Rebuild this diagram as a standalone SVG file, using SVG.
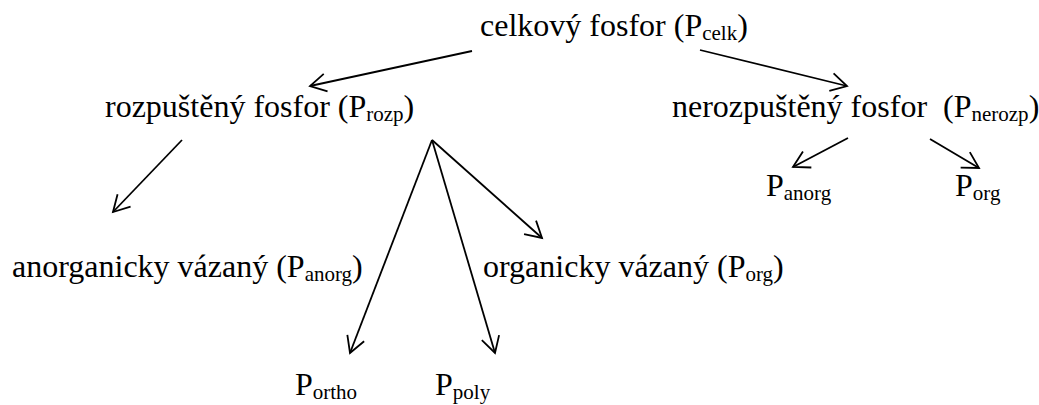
<svg xmlns="http://www.w3.org/2000/svg" width="1039" height="405" viewBox="0 0 1039 405">
<style>
text{font-family:"Liberation Serif","Times New Roman",serif;font-size:32px;fill:#000}
.s{font-size:21px}
.c line{stroke:#000;stroke-width:1.8;fill:none}
.a{marker-end:url(#ah)}
</style>
<defs>
<marker id="ah" markerUnits="userSpaceOnUse" markerWidth="40" markerHeight="40" viewBox="-20 -20 40 40" refX="0" refY="0" orient="auto" overflow="visible">
<path d="M-16,-9 L0,0 L-16,9" fill="none" stroke="#000" stroke-width="1.8"/>
</marker>
</defs>
<rect width="1039" height="405" fill="#fff"/>
<g id="celk"><text x="480" y="36">celkový fosfor (P<tspan class="s" dy="4">celk</tspan><tspan dy="-4">)</tspan></text></g>
<g id="rozp"><text x="105" y="117">rozpuštěný fosfor (P<tspan class="s" dy="4">rozp</tspan><tspan dy="-4">)</tspan></text></g>
<g id="nerozp"><text x="672" y="117" xml:space="preserve">nerozpuštěný fosfor  (P<tspan class="s" dy="4">nerozp</tspan><tspan dy="-4">)</tspan></text></g>
<g id="anorg"><text x="12" y="277">anorganicky vázaný (P<tspan class="s" dy="4">anorg</tspan><tspan dy="-4">)</tspan></text></g>
<g id="org"><text x="483" y="277">organicky vázaný (P<tspan class="s" dy="4">org</tspan><tspan dy="-4">)</tspan></text></g>
<g id="ortho"><text x="295" y="395">P<tspan class="s" dy="4">ortho</tspan></text></g>
<g id="poly"><text x="435" y="395">P<tspan class="s" dy="4">poly</tspan></text></g>
<g id="n_anorg"><text x="766" y="196">P<tspan class="s" dy="4">anorg</tspan></text></g>
<g id="n_org"><text x="955" y="196">P<tspan class="s" dy="4">org</tspan></text></g>
<g id="connectors" class="c">
<line class="a" x1="472" y1="51" x2="310" y2="86"/>
<line class="a" x1="700" y1="50" x2="847" y2="86"/>
<line class="a" x1="182" y1="140" x2="113" y2="212"/>
<line class="a" x1="432" y1="140" x2="350" y2="353"/>
<line class="a" x1="432" y1="140" x2="495" y2="353"/>
<line class="a" x1="432" y1="140" x2="542" y2="238"/>
<line class="a" x1="848" y1="138" x2="793" y2="167"/>
<line class="a" x1="930" y1="139" x2="979" y2="168"/>
</g>
</svg>
